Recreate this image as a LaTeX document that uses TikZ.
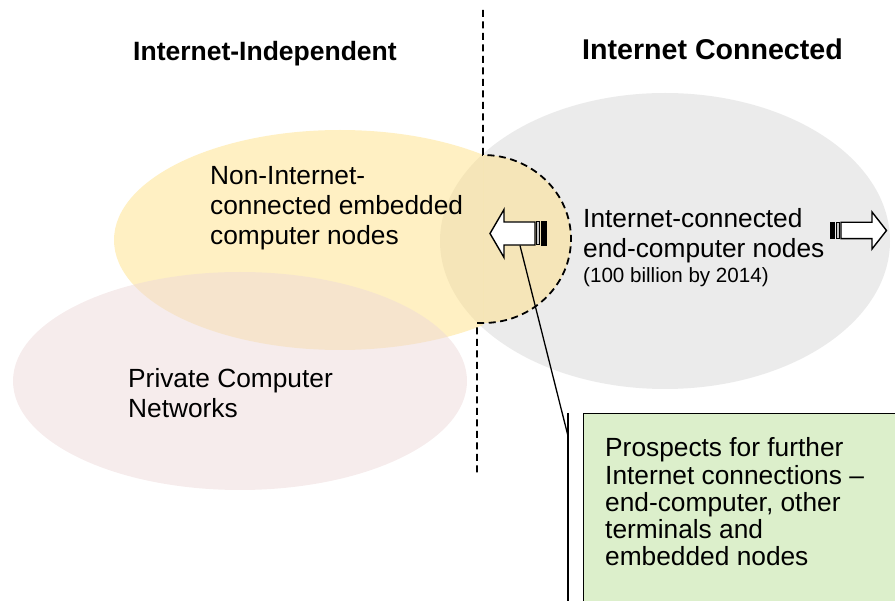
\documentclass[tikz,border=0pt]{standalone}
\usepackage{fontspec}
\setmainfont{Liberation Sans}
\usetikzlibrary{shapes.geometric}
\definecolor{greyset}{HTML}{EBEBEB}
\definecolor{yellowset}{HTML}{FFE187}
\definecolor{pinkset}{HTML}{EDD9D9}
\definecolor{notegreen}{HTML}{DCEFCB}

\begin{document}
\begin{tikzpicture}[x=1pt,y=-1pt,
  setblob/.style={ellipse, inner sep=0pt},
  setlabel/.style={inner sep=0pt, anchor=base west, font=\fontsize{26.3}{30}\selectfont},
  settitle/.style={inner sep=0pt, anchor=base west, font=\bfseries\fontsize{26.5}{30}\selectfont},
  divider/.style={line width=1.8pt, dash pattern=on 7pt off 4.5pt},
  blockarrow/.style={draw=black, line width=1.4pt, fill=white, line join=miter},
  stripe/.style={draw=black, line width=1pt, fill=gray!45},
  leader/.style={line width=1.3pt},
]
\useasboundingbox (0,0) rectangle (895,601);
\clip (0,0) rectangle (895,601);

% the three sets
\node[setblob, fill=greyset, minimum width=450pt, minimum height=296pt] (online) at (665,241) {};
\begin{scope}
  \clip (0,0) rectangle (483,601);
  \node[setblob, fill=yellowset, fill opacity=0.5, minimum width=452pt, minimum height=220pt] (embedded) at (340,240) {};
\end{scope}
\fill[yellowset, fill opacity=0.5] (483,155) arc[start angle=-90, end angle=90, x radius=88, y radius=84] -- cycle;
\node[setblob, fill=pinkset, fill opacity=0.5, minimum width=454pt, minimum height=218pt] (private) at (240,381) {};

% boundary between the two halves, bulging round the overlap
\draw[divider] (483,10) -- (483,155) arc[start angle=-90, end angle=90, x radius=88, y radius=84] -- (477,323) -- (477,475);

% headings
\node[settitle] (indeptitle) at (133,61) {Internet-Independent};
\node[settitle, font=\bfseries\fontsize{28.6}{30}\selectfont] (conntitle) at (582,60) {Internet Connected};

% set labels
\node[setlabel] (embeddedtext) at (210,185) {\begin{tabular}[t]{@{}l@{}}Non-Internet-\\connected embedded\\computer nodes\end{tabular}};
\node[setlabel] (onlinetext) at (583,228) {\begin{tabular}[t]{@{}l@{}}Internet-connected\\end-computer nodes\\[-5pt]{\fontsize{20.6}{24}\selectfont(100 billion by 2014)}\end{tabular}};
\node[setlabel] (privatetext) at (128,388) {\begin{tabular}[t]{@{}l@{}}Private Computer\\Networks\end{tabular}};

% striped arrow pointing left, into the overlap
\filldraw[blockarrow] (490,233.5) -- (504,209.5) -- (504,222) -- (535,222) -- (535,245) -- (504,245) -- (504,257.5) -- cycle;
\filldraw[stripe] (536.5,222) rectangle (539.5,245);
\fill[black] (541,221.3) rectangle (547,245.7);
\coordinate (arrowfoot) at (520,245.5);

% striped arrow pointing right, out of the set
\fill[black] (830,221.6) rectangle (835,239.4);
\filldraw[stripe] (836.5,222.3) rectangle (839.5,238.7);
\filldraw[blockarrow] (841,222.3) -- (872,222.3) -- (872,212) -- (886.5,230.5) -- (872,249) -- (872,238.7) -- (841,238.7) -- cycle;

% callout with accent bar
\node[draw=black, line width=1.4pt, fill=notegreen, anchor=north west, minimum width=330pt, minimum height=200pt, inner sep=0pt] (prospects) at (583,413) {};
\node[inner sep=0pt, anchor=base west, font=\fontsize{26.3}{27}\selectfont] (prospectstext) at (605,457) {\begin{tabular}[t]{@{}l@{}}Prospects for further\\Internet connections --\\end-computer, other\\terminals and\\embedded nodes\end{tabular}};
\coordinate (bartop) at (568,413);
\coordinate (barjoin) at (568,436);
\coordinate (barbottom) at (568,612);
\draw[leader] (bartop) -- (barbottom);
\draw[leader] (arrowfoot) -- (barjoin);
\end{tikzpicture}
\end{document}
